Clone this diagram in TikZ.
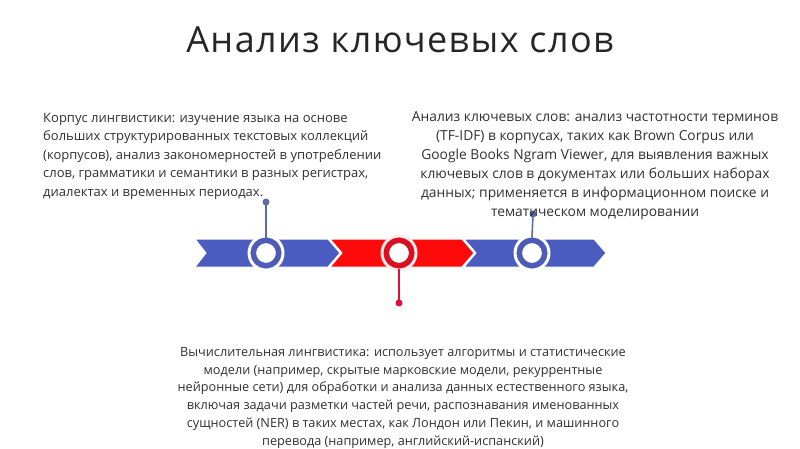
\documentclass[tikz,border=0pt]{standalone}
\usepackage{fontspec}
\setmainfont{Open Sans}
\newfontfamily\titlefont[LetterSpace=4]{Open Sans}
\definecolor{bandblue}{HTML}{4A5CC0}
\definecolor{bandred}{HTML}{FF0A0A}
\definecolor{ringblue}{HTML}{4E5CB8}
\definecolor{ringred}{HTML}{DA1022}
\definecolor{pinblue}{HTML}{5E6AA8}
\definecolor{pinred}{HTML}{E0103A}
\definecolor{txt}{HTML}{303030}
\begin{document}
\begin{tikzpicture}[x=1pt,y=-1pt,
  body/.style={text=txt, inner sep=0pt},
  chevron/.style={draw=white, line width=1pt},
  ring/.style={circle, minimum size=25.5pt, inner sep=0pt, fill=white, line width=5.5pt},
  halo/.style={circle, minimum size=37pt, inner sep=0pt, fill=white},
  pinline/.style={line width=1.6pt},
  pindot/.style={circle, minimum size=7pt, inner sep=0pt}]
\useasboundingbox (0,0) rectangle (800,449);
% title
\node[font=\titlefont\fontsize{36}{42}\selectfont, text=black!85, anchor=base] (title) at (400,53) {Анализ ключевых слов};
% band
\fill[bandblue, chevron] (195,239) -- (328,239) -- (340,253) -- (328,267) -- (195,267) -- (206,253) -- cycle;
\fill[bandred, chevron] (330,239) -- (462,239) -- (474,253) -- (462,267) -- (330,267) -- (342,253) -- cycle;
\fill[bandblue, chevron] (464,239) -- (594,239) -- (606,253) -- (594,267) -- (464,267) -- (476,253) -- cycle;
% circles
\node[halo] (h1) at (266,253) {};
\node[halo, fill=red!8] (h2) at (399,253) {};
\node[halo] (h3) at (532,253) {};
\node[ring, draw=ringblue] (c1) at (266,253) {};
\node[ring, draw=ringred] (c2) at (399,253) {};
\node[ring, draw=ringblue] (c3) at (532,253) {};
% pins
\node[pindot, fill=pinblue] (p1) at (266,202) {};
\node[pindot, fill=pinred] (p2) at (399,303) {};
\node[pindot, fill=pinblue] (p3) at (533,214) {};
\draw[pinline, pinblue] (c1.north) -- (p1.center);
\draw[pinline, pinred] (c2.south) -- (p2.center);
\draw[pinline, pinblue] (c3.north) -- (p3.center);
% texts
\node[body, font=\fontsize{13}{18.5}\selectfont, align=left, anchor=base west] (t1) at (43,196.5) {Корпус лингвистики: изучение языка на основе\\больших структурированных текстовых коллекций\\(корпусов), анализ закономерностей в употреблении\\слов, грамматики и семантики в разных регистрах,\\диалектах и временных периодах.};
\node[body, font=\fontsize{13.8}{18.8}\selectfont, align=center, anchor=base] (t2) at (595,216) {Анализ ключевых слов: анализ частотности терминов\\(TF-IDF) в корпусах, таких как Brown Corpus или\\Google Books Ngram Viewer, для выявления важных\\ключевых слов в документах или больших наборах\\данных; применяется в информационном поиске и\\тематическом моделировании};
\node[body, font=\fontsize{12.7}{17.7}\selectfont, align=center, anchor=base] (t3) at (403,445) {Вычислительная лингвистика: использует алгоритмы и статистические\\модели (например, скрытые марковские модели, рекуррентные\\нейронные сети) для обработки и анализа данных естественного языка,\\включая задачи разметки частей речи, распознавания именованных\\сущностей (NER) в таких местах, как Лондон или Пекин, и машинного\\перевода (например, английский-испанский)};
\end{tikzpicture}
\end{document}
